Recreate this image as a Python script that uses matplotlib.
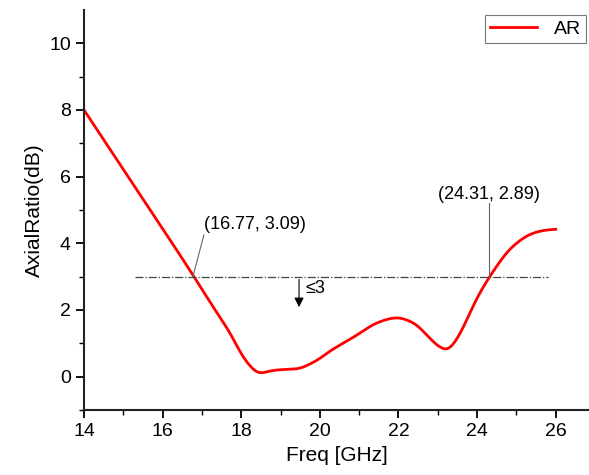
import numpy as np
import matplotlib.pyplot as plt

plt.rcParams['font.family'] = ['Liberation Sans', 'DejaVu Sans']

# values
freq = [14.0, 15.0, 16.0, 16.77, 17.28, 17.71, 18.04, 18.25, 18.45, 18.7, 18.9,
        19.42, 19.82, 20.0, 20.2, 20.84, 21.53, 21.96, 22.37, 22.88, 23.05, 23.23,
        23.5, 23.74, 23.95, 24.32, 24.9, 25.41, 25.77, 26.0]
ar = [8.0, 6.22, 4.44, 3.05, 2.1, 1.32, 0.6, 0.28, 0.09, 0.16, 0.2,
      0.23, 0.42, 0.54, 0.72, 1.17, 1.65, 1.77, 1.62, 1.05, 0.88, 0.79,
      1.15, 1.71, 2.25, 3.0, 3.9, 4.3, 4.4, 4.42]

limit = 3
pt1 = (16.77, 3.09)
pt2 = (24.31, 2.89)


def pchip(x, y, xs):
    # monotone cubic (Fritsch-Carlson), keeps the curve smooth without overshoot
    x = np.asarray(x, float)
    y = np.asarray(y, float)
    h = np.diff(x)
    d = np.diff(y) / h
    m = np.zeros_like(y)
    for k in range(1, len(x) - 1):
        if d[k - 1] * d[k] > 0:
            w1 = 2 * h[k] + h[k - 1]
            w2 = h[k] + 2 * h[k - 1]
            m[k] = (w1 + w2) / (w1 / d[k - 1] + w2 / d[k])
    m[0] = d[0]
    m[-1] = d[-1]
    i = np.clip(np.searchsorted(x, xs) - 1, 0, len(x) - 2)
    t = (xs - x[i]) / h[i]
    h00 = 2 * t**3 - 3 * t**2 + 1
    h10 = t**3 - 2 * t**2 + t
    h01 = -2 * t**3 + 3 * t**2
    h11 = t**3 - t**2
    return h00 * y[i] + h10 * h[i] * m[i] + h01 * y[i + 1] + h11 * h[i] * m[i + 1]


fig = plt.figure(figsize=(5.89, 4.75), dpi=100)
ax = fig.add_axes([0.1426, 0.137, 0.857, 0.842])

xs = np.linspace(freq[0], freq[-1], 1201)
ys = pchip(freq, ar, xs)
# light gaussian smoothing to take out small kinks between read points
k = np.exp(-0.5 * (np.arange(-30, 31) / 10.0) ** 2)
k /= k.sum()
ys = np.convolve(np.pad(ys, 30, mode='reflect', reflect_type='odd'), k, mode='valid')
ax.plot(xs, ys, color='red', lw=2, label='AR')

ax.plot([15.3, 25.8], [limit, limit], color='#444444', lw=0.9, ls='-.')

ax.annotate('', xy=(19.47, 2.0), xytext=(19.47, limit),
            arrowprops=dict(arrowstyle='-|>', color='black', lw=0.8,
                            mutation_scale=14))
ax.text(19.62, 2.65, '≤3', fontsize=13, va='center')

ax.plot([pt1[0], 17.05], [limit, 4.25], color='#666666', lw=0.8)
ax.text(17.05, 4.55, '(16.77, 3.09)', fontsize=13, va='center')
ax.plot([pt2[0], pt2[0]], [limit, 5.2], color='#666666', lw=0.8)
ax.text(pt2[0], 5.45, '(24.31, 2.89)', fontsize=13, va='center', ha='center')

ax.set_xlim(14, 26.84)
ax.set_ylim(-1, 11)
ax.set_xticks([14, 16, 18, 20, 22, 24, 26])
ax.set_xticks(np.arange(15, 27, 2), minor=True)
ax.set_yticks([0, 2, 4, 6, 8, 10])
ax.set_yticks([-1, 1, 3, 5, 7, 9], minor=True)
ax.spines['top'].set_visible(False)
ax.spines['right'].set_visible(False)
for s in ['left', 'bottom']:
    ax.spines[s].set_linewidth(1.5)
    ax.spines[s].set_color('#222222')
ax.tick_params(which='major', direction='out', length=6, width=1.3, labelsize=14)
ax.tick_params(which='minor', direction='out', length=3.5, width=1.0)
ax.set_xlabel('Freq [GHz]', fontsize=15)
ax.set_ylabel('AxialRatio(dB)', fontsize=15)

leg = ax.legend(loc='upper right', bbox_to_anchor=(0.995, 0.987), fontsize=14,
                frameon=True, fancybox=False, edgecolor='#555555', handlelength=2.4,
                borderpad=0.25, handletextpad=0.9, borderaxespad=0)
leg.get_frame().set_linewidth(0.8)

fig.savefig('out.png', dpi=100)
